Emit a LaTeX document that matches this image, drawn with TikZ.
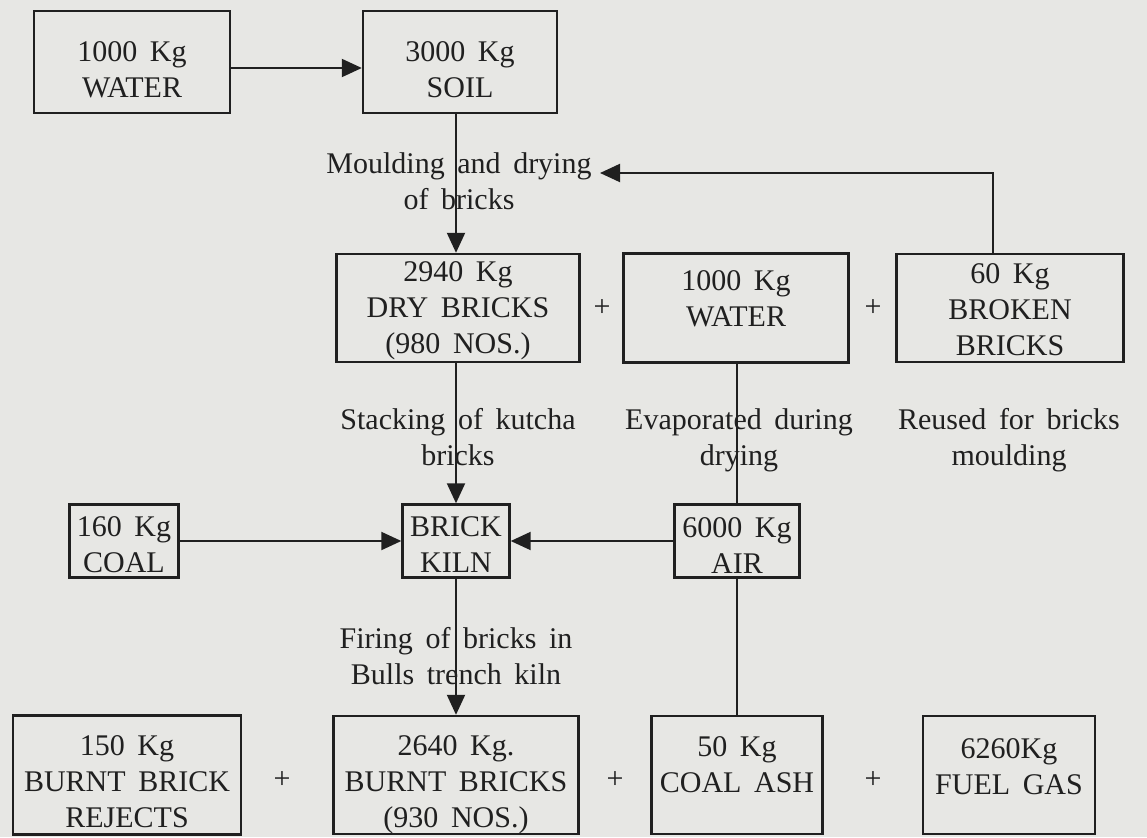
\documentclass[tikz,border=0pt]{standalone}
\usepackage{fontspec}
\setmainfont{Liberation Serif}
\usetikzlibrary{arrows.meta}
\definecolor{paper}{RGB}{231,231,228}
\definecolor{ink}{RGB}{32,32,32}
\newcommand{\kgfont}{\fontsize{30}{36}\selectfont\spaceskip=0.42em\relax}
\tikzset{kgbox/.style={draw=ink,line width=2.4pt,inner sep=0pt,
    align=center,text=ink,font=\kgfont}}
\tikzset{steptext/.style={inner sep=0pt,align=center,text=ink,
    font=\kgfont}}
\tikzset{plussign/.style={inner sep=0pt,text=ink,
    font=\kgfont}}
\tikzset{flowline/.style={draw=ink,line width=2pt}}
\tikzset{flowarrow/.style={flowline,-{Triangle[length=20pt,width=18pt]}}}

\begin{document}
\begin{tikzpicture}[x=1pt,y=-1pt]

\pgfmathsetmacro{\xmax}{1147}
\pgfmathsetmacro{\ymax}{837}

\pgfmathsetmacro{\ya}{62}
\pgfmathsetmacro{\yb}{308}
\pgfmathsetmacro{\yc}{541}
\pgfmathsetmacro{\yd}{775}

% 背景
\fill[paper] (0,0) rectangle (\xmax,\ymax);
\useasboundingbox (0,0) rectangle (\xmax,\ymax);

% 上段
\node[kgbox,minimum width=196pt,minimum height=102pt,
    text height=87pt,text depth=15pt] (water) at (132,\ya)
    {1000 Kg\\WATER};
\node[kgbox,minimum width=194pt,minimum height=102pt,
    text height=87pt,text depth=15pt] (soil) at (460,\ya)
    {3000 Kg\\SOIL};

% 2段目
\node[kgbox,minimum width=243pt,minimum height=108pt,
    text height=99pt,text depth=9pt] (dry) at (458,\yb)
    {2940 Kg\\DRY BRICKS\\(980 NOS.)};
\node[plussign] (plusa) at (602,\yb) {+};
\node[kgbox,minimum width=225pt,minimum height=109pt,
    text height=73pt,text depth=36pt] (wetwater) at (736,\yb)
    {1000 Kg\\WATER};
\node[plussign] (plusb) at (873,\yb) {+};
\node[kgbox,minimum width=227pt,minimum height=108pt,
    text height=101pt,text depth=7pt] (broken) at (1010,\yb)
    {60 Kg\\BROKEN\\BRICKS};

% 3段目
\node[kgbox,minimum width=109pt,minimum height=73pt,
    text height=68pt,text depth=5pt] (coal) at (124,\yc)
    {160 Kg\\COAL};
\node[kgbox,minimum width=107pt,minimum height=73pt,
    text height=68pt,text depth=5pt] (kiln) at (456,\yc)
    {BRICK\\KILN};
\node[kgbox,minimum width=125pt,minimum height=73pt,
    text height=69pt,text depth=4pt] (air) at (737,\yc)
    {6000 Kg\\AIR};

% 下段
\node[kgbox,minimum width=228pt,minimum height=119pt,
    text height=112pt,text depth=7pt] (rejects) at (127,\yd)
    {150 Kg\\BURNT BRICK\\REJECTS};
\node[plussign] (plusc) at (282,780) {+};
\node[kgbox,minimum width=245pt,minimum height=118pt,
    text height=111pt,text depth=7pt] (burnt) at (456,\yd)
    {2640 Kg.\\BURNT BRICKS\\(930 NOS.)};
\node[plussign] (plusd) at (615,780) {+};
\node[kgbox,minimum width=171pt,minimum height=118pt,
    text height=76pt,text depth=42pt] (ash) at (737,\yd)
    {50 Kg\\COAL ASH};
\node[plussign] (pluse) at (873,780) {+};
\node[kgbox,minimum width=172pt,minimum height=118pt,
    text height=78pt,text depth=40pt] (fuel) at (1009,\yd)
    {6260Kg\\FUEL GAS};

% 流れ
\coordinate (turn) at (993,173);
\coordinate (back) at (600,173);
\draw[flowarrow] ([yshift=-6pt]water.east) -- ([yshift=-6pt]soil.west);
\draw[flowarrow] (soil.south -| kiln) -- (dry.north -| kiln);
\draw[flowarrow] (broken.north -| turn) -- (turn) -- (back);
\draw[flowarrow] (dry.south -| kiln) -- (kiln.north);
\draw[flowline] (wetwater.south -| air) -- (air.north);
\draw[flowarrow] (coal.east) -- (kiln.west);
\draw[flowarrow] (air.west) -- (kiln.east);
\draw[flowarrow] (kiln.south) -- (burnt.north -| kiln);
\draw[flowline] (air.south) -- (ash.north -| air);

% 工程の説明
\node[steptext] (mould) at (459,181) {Moulding and drying\\of bricks};
\node[steptext] (stack) at (458,437) {Stacking of kutcha\\bricks};
\node[steptext] (evap) at (739,440) {Evaporated during\\drying};
\node[steptext] (reuse) at (1009,440) {Reused for bricks\\moulding};
\node[steptext] (firing) at (456,656) {Firing of bricks in\\Bulls trench kiln};

\end{tikzpicture}
\end{document}
